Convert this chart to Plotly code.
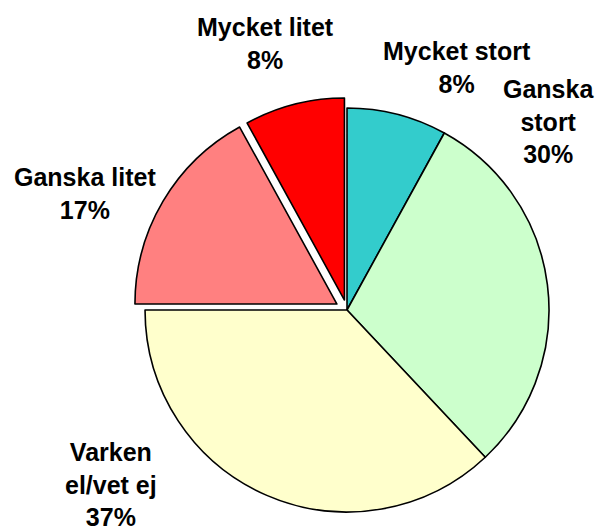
import plotly.graph_objects as go

# Survey answers, clockwise from 12 o'clock
categories = ["Mycket stort", "Ganska stort", "Varken el/vet ej", "Ganska litet", "Mycket litet"]
display_labels = ["Mycket stort", "Ganska<br>stort", "Varken<br>el/vet ej", "Ganska litet", "Mycket litet"]
shares = [8, 30, 37, 17, 8]
colors = ["#33CCCC", "#CCFFCC", "#FFFFCC", "#FF8080", "#FF0000"]
pulls = [0, 0, 0, 0.058, 0.051]

# Label anchor positions in paper coordinates
label_x = [0.751, 0.900, 0.182, 0.140, 0.436]
label_y = [0.874, 0.772, 0.090, 0.636, 0.918]

W, H = 609, 532

fig = go.Figure(
    go.Pie(
        labels=categories,
        values=shares,
        sort=False,
        direction="clockwise",
        rotation=0,
        pull=pulls,
        marker=dict(colors=colors, line=dict(color="black", width=1.6)),
        textinfo="none",
        hoverinfo="label+percent",
        showlegend=False,
        domain=dict(x=[0.2189, 0.9207], y=[0.0156, 0.819]),
    )
)

for lab, val, x, y in zip(display_labels, shares, label_x, label_y):
    fig.add_annotation(
        x=x, y=y, xref="paper", yref="paper",
        text=f"<b>{lab}<br>{val}%</b>",
        showarrow=False, xanchor="center", yanchor="middle",
        font=dict(family="Liberation Sans, Arial", size=25, color="black"),
        align="center",
    )

fig.update_layout(
    width=W, height=H,
    margin=dict(l=0, r=0, t=0, b=0),
    paper_bgcolor="white",
    plot_bgcolor="white",
)

fig.write_html("out.html")
